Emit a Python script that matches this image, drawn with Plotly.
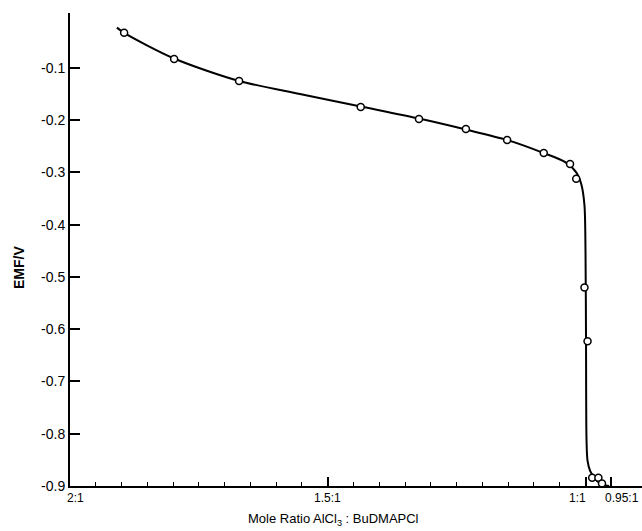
import plotly.graph_objects as go

# Measured points: mole ratio AlCl3 : BuDMAPCl (x:1) and EMF (V)
point_ratio = [1.895, 1.798, 1.672, 1.436, 1.323, 1.232, 1.152, 1.081, 1.030, 1.018,
               1.002, 0.996, 0.987, 0.975, 0.968]
point_emf = [-0.033, -0.083, -0.125, -0.175, -0.198, -0.217, -0.238, -0.263, -0.284, -0.312,
             -0.520, -0.623, -0.884, -0.884, -0.895]

# Smooth drawn curve
curve_ratio = [1.909, 1.895, 1.798, 1.672, 1.554, 1.436, 1.323, 1.232, 1.152, 1.081,
               1.040, 1.018, 1.008, 1.002, 1.000, 0.999, 0.998, 0.996, 0.991, 0.980,
               0.966, 0.954]
curve_emf = [-0.023, -0.033, -0.082, -0.125, -0.150, -0.174, -0.197, -0.218, -0.238, -0.263,
             -0.280, -0.300, -0.323, -0.363, -0.449, -0.622, -0.813, -0.852, -0.871, -0.888,
             -0.898, -0.900]

# Axis ticks
x_major_vals = [2.0, 1.5, 1.0, 0.95]
x_major_text = ["2:1", "1.5:1", "1:1", "0.95:1"]
x_minor_vals = [1.95, 1.9, 1.85, 1.8, 1.75, 1.7, 1.65, 1.6, 1.55,
                1.45, 1.4, 1.35, 1.3, 1.25, 1.2, 1.15, 1.1, 1.05]
y_tick_vals = [-0.1, -0.2, -0.3, -0.4, -0.5, -0.6, -0.7, -0.8, -0.9]
y_tick_text = ["-0.1", "-0.2", "-0.3", "-0.4", "-0.5", "-0.6", "-0.7", "-0.8", "-0.9"]

FONT = "Liberation Sans, Arial, sans-serif"

fig = go.Figure()
fig.add_trace(go.Scatter(
    x=curve_ratio, y=curve_emf, mode="lines",
    line=dict(color="black", width=2, shape="spline", smoothing=0.8),
    cliponaxis=False, hoverinfo="skip", showlegend=False))
fig.add_trace(go.Scatter(
    x=point_ratio, y=point_emf, mode="markers",
    marker=dict(symbol="circle", size=7, color="white",
                line=dict(color="black", width=1.5)),
    cliponaxis=False, showlegend=False))

# x tick labels drawn as annotations (the originals are nudged off their ticks)
label_shift = {"2:1": 5, "1.5:1": 0, "1:1": -8, "0.95:1": 11}
annotations = []
for v, t in zip(x_major_vals, x_major_text):
    annotations.append(dict(
        text=t, xref="x", yref="paper", x=v, y=-0.026, showarrow=False,
        xanchor="center", yanchor="middle", xshift=label_shift[t],
        font=dict(size=12, family=FONT, color="black")))

annotations += [
    dict(text="<b>EMF/V</b>", xref="paper", yref="paper", x=-0.089, y=0.461,
         textangle=-90, showarrow=False, xanchor="center", yanchor="middle",
         font=dict(size=14, family=FONT, color="black")),
    dict(text="Mole Ratio AlCl<sub>3</sub> : BuDMAPCl", xref="paper", yref="paper",
         x=0.4615, y=-0.07, showarrow=False, xanchor="center", yanchor="middle",
         font=dict(size=13, family=FONT, color="black")),
]

fig.update_layout(
    width=642, height=531,
    margin=dict(l=70, r=0, t=13, b=45, autoexpand=False),
    paper_bgcolor="white", plot_bgcolor="white",
    font=dict(family=FONT, color="black", size=12),
    xaxis=dict(
        range=[2.0, 0.8904], showgrid=False, zeroline=False, automargin=False,
        showline=True, linecolor="black", linewidth=2,
        ticks="inside", ticklen=9, tickwidth=1.5, tickcolor="black",
        tickmode="array", tickvals=x_major_vals, showticklabels=False,
        minor=dict(tickmode="array", tickvals=x_minor_vals, ticks="inside",
                   ticklen=4, tickwidth=1.2, tickcolor="black", showgrid=False),
    ),
    yaxis=dict(
        range=[-0.9, 0.005], showgrid=False, zeroline=False, automargin=False,
        showline=True, linecolor="black", linewidth=2,
        ticks="inside", ticklen=10, tickwidth=1.5, tickcolor="black",
        tickmode="array", tickvals=y_tick_vals, ticktext=y_tick_text,
        tickfont=dict(size=14, family=FONT, color="black"),
        ticklabelstandoff=0,
    ),
    annotations=annotations,
)

fig.write_html("out.html", config={"displayModeBar": False},
               post_script="document.body.style.margin='0px';document.body.style.overflow='hidden';")
